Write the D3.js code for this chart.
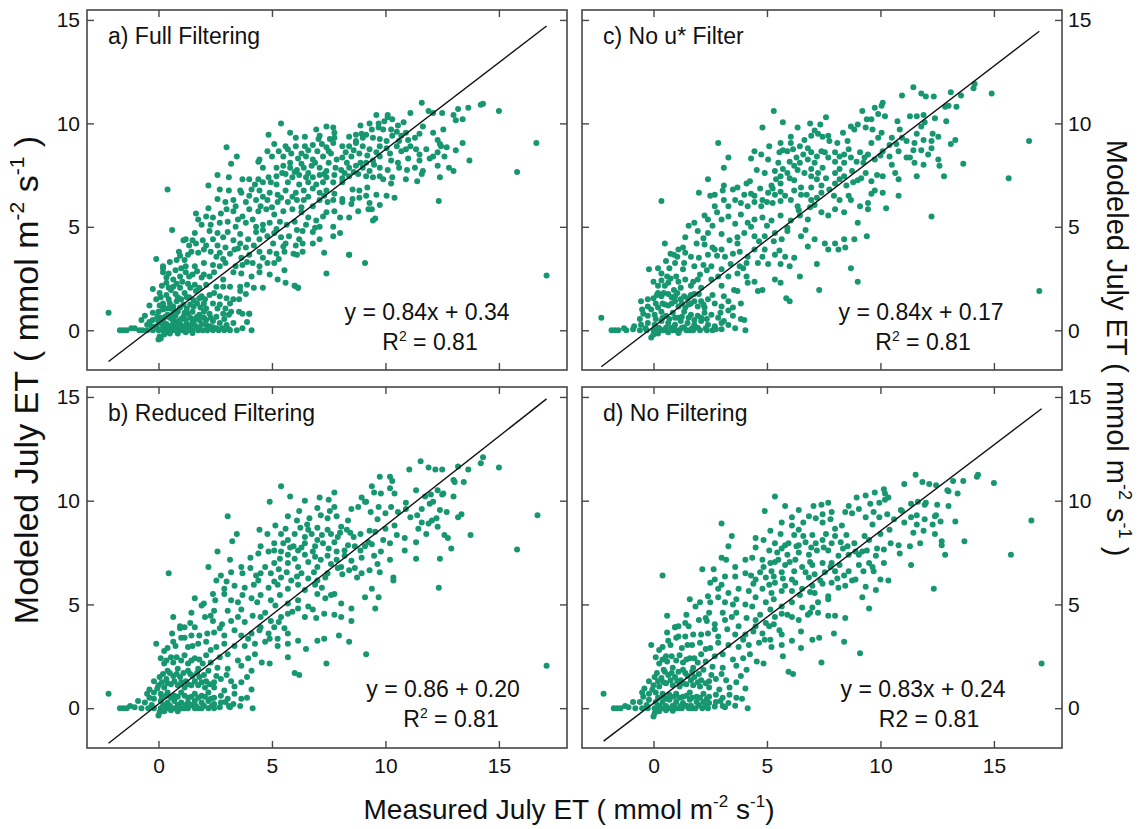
<!DOCTYPE html>
<html>
<head>
<meta charset="utf-8">
<title>Modeled vs Measured July ET</title>
<style>
  body { margin: 0; background: #fff; }
  svg { display: block; font-family: "Liberation Sans", Arial, sans-serif; }
</style>
</head>
<body>
<svg id="chart" width="1142" height="829"></svg>
<script src="https://d3js.org/d3.v7.min.js"></script>
<script>
// ---- data ----
const xTicks = [0, 5, 10, 15];
const yTicks = [0, 5, 10, 15];
const panelNames = ["a) Full Filtering", "b) Reduced Filtering", "c) No u* Filter", "d) No Filtering"];
const slopes = [0.84, 0.86, 0.84, 0.83];
const intercepts = [0.34, 0.20, 0.17, 0.24];
const eqLabels = ["y = 0.84x + 0.34", "y = 0.86 + 0.20", "y = 0.84x + 0.17", "y = 0.83x + 0.24"];
const r2Values = ["0.81", "0.81", "0.81", "0.81"];
const r2Superscript = [true, true, true, false];

const pointsA = [
[11.6,11.0],[9.6,10.4],[10.1,10.3],[10.3,10.2],[9.7,10.0],[9.3,10.0],[11.1,10.5],[11.9,10.6],[12.1,10.5],[12.5,10.5],[13.0,10.4],[13.2,10.7],[13.65,10.75],[14.2,10.9],[14.3,10.95],[15.0,10.6],[13.4,10.2],[13.1,10.15],[5.4,10.0],[9.95,10.1],[10.1,10.4],[10.55,9.9],[8.9,9.9],
[7.4,9.85],[7.7,9.8],[7.75,9.55],[6.95,9.7],[7.1,9.4],[5.8,9.55],[6.45,9.35],[7.05,9.25],[7.55,9.25],[7.75,9.3],[8.4,9.35],[8.7,9.45],[8.95,9.5],[9.15,9.45],[9.0,9.3],[9.4,9.7],[9.7,9.8],[9.9,9.7],[10.25,9.7],[10.5,9.6],[9.45,9.3],[9.75,9.25],[10.05,9.15],[10.7,9.4],[10.9,9.55],[11.0,9.2],[11.3,9.3],[11.65,9.85],[12.55,9.7],[12.1,9.55],[12.3,9.2],[12.45,8.9],[4.85,9.45],[6.05,9.3],[10.3,9.4],[10.6,9.15],[8.7,9.15],[13.4,9.05],[16.65,9.05],
[3.0,8.85],[3.45,8.4],[5.1,9.0],[5.6,8.9],[6.05,8.9],[6.45,8.9],[6.8,8.95],[7.2,9.0],[7.4,8.85],[7.7,9.05],[8.1,8.9],[8.4,8.9],[8.7,9.05],[9.0,8.9],[9.3,8.75],[9.75,8.9],[10.05,8.8],[10.5,8.9],[10.7,8.65],[10.9,8.75],[11.1,8.9],[11.35,8.75],[11.8,8.75],[12.1,8.4],[12.4,9.0],[12.7,8.85],[13.1,8.7],[12.3,8.6],[12.6,8.4],[13.7,8.2],[4.8,8.65],[5.0,8.4],[4.45,8.25],[5.5,8.4],[5.85,8.55],[6.15,8.3],[6.5,8.4],[6.8,8.25],[7.25,8.4],[7.6,8.55],[7.85,8.25],[8.1,8.35],[8.5,8.4],[8.85,8.55],[9.15,8.1],[9.45,8.2],[9.75,8.4],[10.25,8.2],[10.55,8.1],[11.0,8.3],[11.5,8.2],[11.95,8.3],[3.2,8.05],
[4.4,8.15],[4.6,7.85],[5.2,7.85],[5.5,7.95],[5.8,7.85],[6.1,7.75],[6.4,7.85],[6.75,7.95],[7.1,7.85],[7.4,7.7],[7.8,7.85],[8.05,7.75],[8.4,7.85],[8.7,7.95],[9.0,7.85],[9.3,7.7],[9.75,7.85],[10.1,7.75],[10.6,7.85],[10.95,7.75],[11.3,7.85],[11.65,7.7],[12.3,7.95],[12.8,7.85],[13.0,7.7],[12.4,7.4],[11.6,7.55],[11.4,7.2],[9.75,7.45],[9.45,7.4],[9.15,7.45],[8.8,7.55],[8.4,7.45],[8.1,7.35],[7.75,7.5],[7.4,7.4],[7.1,7.5],[6.8,7.4],[6.5,7.4],[6.2,7.5],[5.9,7.4],[5.6,7.55],[5.2,7.45],[4.85,7.4],[4.4,7.3],[4.0,7.3],[3.7,7.3],[2.6,7.5],[3.1,7.4],[10.3,7.4],[10.25,7.1],[8.1,7.15],[7.7,7.15],[7.25,7.15],[6.95,7.05],[6.6,7.15],[6.2,7.05],[5.7,7.15],[5.2,7.05],[4.95,7.15],[4.6,7.15],[4.25,7.05],
[2.2,7.0],[0.4,6.8],[2.7,6.8],[3.1,6.75],[3.6,6.75],[3.65,6.65],[4.1,6.8],[4.45,6.75],[4.9,6.65],[5.25,6.55],[5.6,6.75],[6.05,6.65],[6.4,6.75],[6.8,6.85],[7.1,6.65],[7.4,6.75],[7.75,6.6],[8.1,6.35],[8.55,6.8],[8.85,6.75],[9.2,6.9],[8.1,6.2],[8.55,6.35],[8.85,6.4],[9.15,6.5],[9.3,6.15],[10.05,6.5],[10.4,6.4],[9.75,6.05],[2.6,6.35],[2.95,6.2],[3.3,6.3],[3.85,6.2],[4.3,6.3],[4.8,6.3],[5.25,6.2],[5.7,6.2],[6.1,6.3],[6.4,6.3],[7.1,6.3],[7.45,6.2],[12.35,6.25],
[1.65,5.65],[2.1,5.5],[2.4,5.45],[2.75,5.65],[3.0,5.85],[3.3,5.75],[3.7,5.5],[4.0,5.85],[4.4,5.75],[4.75,5.85],[5.1,5.6],[5.5,5.75],[5.9,5.85],[6.3,5.7],[6.6,5.45],[6.95,5.3],[7.25,5.5],[7.4,5.7],[7.75,5.75],[8.0,5.45],[8.4,5.45],[8.8,5.75],[9.25,5.85],[9.4,5.85],[9.45,5.3],[9.55,5.4],[1.75,5.35],[1.9,5.1],[2.3,5.1],[2.7,5.2],[3.05,5.25],[3.5,5.35],[3.85,5.2],[4.15,5.35],[4.6,5.1],[4.9,5.2],[5.35,5.25],[5.65,5.1],[6.0,5.25],[6.5,5.1],[7.1,5.0],[7.7,5.0],
[0.6,4.85],[1.2,4.4],[1.5,4.35],[1.95,4.35],[2.25,4.8],[2.6,4.7],[2.85,4.5],[3.05,4.75],[3.3,4.35],[3.6,4.2],[3.95,4.4],[4.3,4.75],[4.45,4.4],[4.8,4.55],[5.1,4.7],[5.4,4.5],[5.75,4.55],[6.2,4.4],[6.35,4.8],[6.8,4.75],[7.1,4.4],[7.7,4.55],[8.0,4.7],[1.1,4.35],[1.35,4.1],[1.65,4.2],[2.1,4.1],[2.6,4.1],[2.95,4.0],[3.5,3.95],[3.85,4.0],[4.2,4.1],[5.05,4.2],[5.6,4.2],[6.05,4.1],[6.35,4.2],[6.8,4.2],
[-0.1,3.45],[0.2,3.0],[0.8,3.4],[1.15,3.4],[1.45,3.8],[1.75,3.75],[2.0,3.9],[2.3,3.8],[2.55,3.55],[2.85,3.45],[3.15,3.7],[3.35,3.9],[3.65,3.5],[4.0,3.65],[4.45,3.8],[4.9,3.8],[5.2,3.7],[5.55,3.8],[5.95,3.7],[6.35,3.8],[7.3,3.75],[8.4,3.65],[1.2,3.1],[1.6,3.1],[2.0,3.25],[2.4,3.15],[2.7,3.1],[2.95,3.25],[3.4,3.1],[3.7,3.15],[4.15,3.25],[4.45,3.1],[4.8,3.25],[5.1,3.25],[5.55,2.9],[6.1,3.65],[0.2,3.1],
[0.2,2.8],[0.35,2.55],[0.65,2.45],[0.95,2.6],[1.2,2.8],[1.5,2.7],[1.9,2.55],[2.25,2.6],[2.45,2.8],[2.85,2.45],[3.3,2.8],[3.65,2.75],[4.1,2.6],[4.45,2.8],[4.9,2.7],[5.25,2.45],[5.6,2.3],[7.4,2.75],[0.65,2.1],[0.95,2.05],[1.4,2.05],[1.8,2.05],[2.1,2.2],[2.55,2.1],[2.85,2.1],[3.15,2.1],[3.6,2.1],[3.9,2.2],[4.2,2.05],[4.6,2.05],[6.0,2.15],[6.15,2.05],[0.35,2.3],
[-0.25,2.0],[0.05,1.8],[0.35,1.7],[0.55,1.95],[0.85,1.6],[1.15,1.8],[1.35,1.6],[1.65,1.9],[1.9,1.65],[2.25,1.7],[2.45,1.8],[2.7,1.65],[3.0,1.55],[3.3,1.5],[3.6,1.9],[3.85,1.75],[2.4,1.3],[2.7,1.25],[3.15,1.3],[3.55,1.5],[-0.4,1.2],[-0.1,1.5],[0.2,1.3],[0.5,1.3],[0.8,1.4],[1.1,1.25],[1.4,1.25],[1.7,1.3],[2.0,1.3],[2.1,1.05],[0.2,1.15],[0.5,1.05],
[-0.75,0.5],[-0.25,0.85],[0.0,0.9],[0.2,1.0],[0.4,0.75],[0.65,0.8],[0.85,0.9],[1.1,0.65],[1.3,0.8],[1.5,0.9],[1.8,0.75],[2.0,0.9],[2.25,0.8],[2.55,0.65],[2.85,0.8],[3.1,0.75],[3.55,0.9],[3.7,0.8],[4.0,0.8],[-0.25,0.5],[0.0,0.45],[0.2,0.5],[0.5,0.6],[0.7,0.45],[0.9,0.45],[1.2,0.5],[1.5,0.45],[1.8,0.5],[2.0,0.6],[2.4,0.45],[2.7,0.35],[3.0,0.25],[3.3,0.35],[-0.5,0.27],[-0.3,0.2],[-0.1,0.2],[0.2,0.27],[0.5,0.2],[0.8,0.23],[1.1,0.2],[1.4,0.23],[1.65,0.2],[2.25,0.2],[2.55,0.1],[0.1,0.35],[0.35,0.3],[0.65,0.35],[0.95,0.3],[1.25,0.3],[1.55,0.35],[1.9,0.3],[2.1,0.25],
[-1.7,0],[-1.55,0],[-1.4,0],[-1.05,0.1],[-0.85,0],[-0.7,0],[-0.5,0],[-0.25,0],[0,0],[0.2,0],[0.4,0],[0.65,0],[0.85,0],[1.05,0],[1.3,0],[1.5,0],[1.75,0],[1.95,0],[2.15,0],[2.4,0],[2.65,0],[3.1,0.05],[3.15,0],[4.1,0],[2.9,0],[0.1,0.05],[0.55,0.05],[1.2,0.05],
[0.0,-0.45],[0.1,-0.4],[0.25,-0.2],[0.5,-0.15],[0.85,-0.15],[1.2,-0.1],[1.5,-0.13],[0.05,-0.3],
[-2.2,0.85],[17.1,2.65],[15.8,7.65],[9.1,3.25],[8.4,3.65],[6.0,2.15],[6.15,2.05],[4.0,0.8],
[0.1,0.6],[0.3,0.65],[0.6,0.55],[0.75,0.7],[1.0,0.55],[1.15,0.85],[1.4,0.6],[1.6,0.55],[1.7,0.65],[2.1,0.5],[2.3,0.6],[0.05,1.2],[0.35,1.05],[0.65,1.15],[0.95,1.1],[1.25,1.05],[1.55,1.15],[1.85,1.1],[0.1,1.6],[0.45,1.5],[0.75,1.75],[1.0,1.5],[1.25,1.6],[1.55,1.45],[1.8,1.55],[2.05,1.5],[0.15,2.15],[0.45,2.05],[0.8,2.25],[1.05,2.35],[1.3,2.25],[1.6,2.2],[0.45,2.75],[0.75,2.9],[1.0,3.0],[1.35,2.6],[1.7,2.85],[2.0,2.7],[0.5,3.3],[0.95,3.6],[1.3,3.65],[0.3,0.1],[0.6,0.12],[0.95,0.1],[1.35,0.1],[1.8,0.1],[2.4,0.15],[2.8,0.1],[3.45,0.0],[3.7,0.1],[3.9,0.4],[2.9,0.55],[3.2,0.9],[2.6,1.05],[2.95,1.05],[0.7,0.95],[-0.05,0.65],[-0.4,0.4],[-1.2,0.1],[-0.6,0.7],
[5.3,8.65],[5.7,8.75],[6.3,8.55],[6.6,8.7],[7.0,8.65],[7.5,8.65],[8.25,8.6],[8.6,8.7],[9.6,8.6],[5.8,8.1],[6.3,8.05],[6.9,8.1],[7.5,8.1],[8.3,8.1],[8.9,8.1],[9.5,8.0],[5.45,7.6],[6.0,7.65],[6.6,7.6],[7.3,7.55],[8.2,7.6],[8.6,7.65],[4.0,6.5],[4.6,6.45],[5.4,6.4],[5.9,6.45],[6.6,6.45],[7.3,6.5],[3.4,6.0],[4.5,6.0],[5.0,5.95],[6.3,5.95],[6.8,6.0],[7.7,6.3],[2.2,5.9],[3.4,5.0],[4.3,5.0],[5.2,4.9],[6.1,4.85],[6.9,4.95],[1.6,4.7],[2.4,4.4],[3.6,4.65],[4.6,4.85],[5.5,4.05],[0.9,3.8],[2.7,3.75],[3.9,3.3],[4.6,3.5],[5.3,3.45],[10.8,10.05],[11.5,9.5],[10.2,8.55],[11.5,8.5],[9.2,8.45],[9.9,7.3],[10.9,7.3],[8.5,6.1],[9.6,6.55]
];

const pointsB = [
[-2.2,0.7],[17.1,2.05],[16.7,9.3],[15.8,7.65],[15.0,11.6],[14.3,12.1],[14.2,11.8],[13.65,11.5],[13.2,11.65],[13.05,10.9],[13.45,10.9],[13.0,11.0],[11.55,11.9],[11.9,11.6],[12.2,11.5],[12.5,11.5],[11.05,11.5],[13.75,8.35],[12.35,5.8],[12.9,7.7],[9.15,2.6],[7.4,2.15],[6.0,1.7],[6.2,1.6],[0.45,6.5],[0.65,4.4],[3.05,9.25],[3.45,8.4],[5.4,10.7],[4.9,9.95],[4.15,0],[3.15,0.05],[4.1,0.9],
[9.4,10.7],[9.75,11.15],[10.2,11.15],[10.3,10.95],[9.5,10.4],[9.8,10.35],[10.2,10.6],[10.4,10.35],[11.35,10.5],[11.75,10.2],[12.1,9.95],[12.55,10.35],[12.5,10.3],[7.75,10.4],[7.5,10.05],[7.1,10.15],[5.8,10.2],[6.45,10.0],[8.95,10.15],[9.15,9.95],[12.3,10.5],
[7.0,9.65],[7.15,9.3],[7.55,9.5],[7.85,9.25],[6.65,9.15],[6.2,9.5],[5.7,9.25],[6.1,9.05],[6.55,8.85],[7.75,9.7],[8.5,9.6],[8.8,9.7],[9.1,9.95],[9.35,9.45],[9.7,9.7],[10.0,9.4],[10.25,9.7],[10.55,9.45],[10.9,9.6],[11.1,9.2],[11.4,9.3],[11.6,8.95],[12.05,9.05],[12.4,9.55],[12.7,9.45],[12.25,9.15],[13.2,9.2],[13.35,9.35],[11.95,9.85],[8.35,9.05],[8.05,8.75],[7.45,9.15],
[4.45,8.6],[4.8,8.4],[5.4,8.4],[5.7,8.1],[6.0,8.4],[6.45,8.25],[6.75,8.4],[7.2,8.35],[7.45,8.6],[7.9,8.25],[8.3,8.6],[8.6,8.25],[8.9,8.4],[9.25,8.0],[9.55,8.5],[9.9,8.1],[10.2,7.95],[10.5,8.35],[10.85,8.2],[11.35,8.0],[11.8,8.4],[12.3,8.75],[12.6,8.35],[11.9,8.9],[12.75,8.2],[3.25,8.05],[4.5,7.8],[5.1,7.95],[5.5,7.95],[5.95,7.8],[6.45,7.95],[6.9,7.8],[7.25,7.95],[7.75,8.0],[8.2,7.6],[8.65,7.8],[9.1,7.8],
[2.6,7.55],[3.15,7.15],[4.05,7.25],[4.4,7.45],[4.85,7.55],[5.1,7.6],[5.4,7.55],[5.7,7.4],[6.15,7.6],[6.45,7.4],[6.8,7.55],[7.15,7.15],[7.45,7.35],[7.85,7.55],[8.2,7.35],[8.5,7.1],[8.95,7.25],[9.5,7.35],[10.2,7.15],[11.35,7.2],[12.4,7.2],[5.1,7.0],[5.7,7.0],[6.15,6.8],[6.6,7.05],[7.0,6.8],[7.6,6.95],[8.05,6.8],[8.65,6.75],[3.65,6.8],
[2.2,6.8],[2.55,6.15],[2.75,6.4],[3.2,6.55],[3.7,6.5],[4.05,6.75],[4.5,6.5],[4.95,6.5],[5.4,6.3],[5.85,6.15],[6.3,6.5],[6.6,6.25],[7.0,6.15],[7.45,6.5],[7.9,6.75],[8.4,6.65],[8.95,6.5],[9.3,6.65],[9.75,6.55],[10.35,6.3],[10.35,6.15],[9.4,5.75],[2.9,5.75],[3.35,5.9],[3.8,5.8],[4.2,5.95],[4.85,5.8],[5.25,5.95],[5.7,5.75],[6.15,5.95],[7.2,5.8],[7.75,5.5],
[1.6,5.3],[2.0,5.05],[2.9,5.5],[3.2,5.2],[3.7,5.45],[4.1,5.3],[4.5,5.45],[4.95,5.2],[5.35,5.45],[5.7,5.05],[6.15,5.2],[6.6,4.9],[7.0,5.5],[7.35,5.3],[7.6,5.45],[8.05,5.05],[8.5,4.8],[9.1,5.35],[9.55,4.8],[9.7,5.35],[1.9,4.95],[2.5,5.2],
[1.15,3.9],[1.6,3.9],[2.05,4.4],[2.4,4.2],[2.8,4.05],[3.2,4.2],[3.5,4.4],[3.8,4.15],[4.15,4.45],[4.5,4.4],[4.95,4.2],[5.4,4.4],[5.7,4.55],[6.15,4.8],[6.45,4.4],[6.95,4.35],[7.3,4.55],[7.75,4.5],[8.05,4.4],[8.5,4.2],[2.45,4.7],[3.05,4.7],[5.1,3.9],[4.5,3.9],
[-0.1,3.1],[0.25,2.75],[0.75,3.0],[1.15,3.4],[1.45,3.5],[1.8,3.5],[2.15,3.6],[2.45,3.65],[2.9,3.5],[3.35,3.75],[3.65,3.5],[4.1,3.6],[4.45,3.75],[4.85,3.6],[5.25,3.35],[5.7,3.6],[6.15,3.25],[6.5,2.85],[7.0,3.25],[7.3,3.35],[7.95,3.5],[8.4,3.2],[1.3,2.95],[1.75,3.1],[2.1,3.2],[2.55,2.95],[2.9,3.1],[3.35,3.0],[3.8,3.0],[4.25,3.1],[4.7,3.2],[5.25,3.0],[5.7,3.1],
[0.25,2.15],[0.65,2.2],[1.0,2.3],[1.3,2.15],[1.6,2.4],[1.95,2.15],[2.3,2.2],[2.7,2.45],[3.05,2.6],[3.5,2.3],[3.95,2.4],[4.25,2.6],[4.55,2.2],[4.9,2.15],[5.7,2.45],[0.4,1.8],[0.85,1.9],[1.3,1.8],[1.75,1.9],[2.2,1.8],[2.6,1.95],[3.05,1.9],[3.65,2.05],[4.1,1.8],[0.55,2.45],
[-0.4,0.9],[-0.2,1.3],[0.05,1.5],[0.35,1.4],[0.65,1.55],[0.95,1.5],[1.2,1.3],[1.5,1.55],[1.8,1.5],[2.1,1.3],[2.45,1.25],[2.75,1.4],[3.2,1.3],[3.65,1.25],[0.0,1.1],[0.25,1.0],[0.55,1.15],[0.85,1.1],[1.15,1.0],[1.45,1.1],[1.75,1.1],[2.05,1.0],[2.45,1.0],
[-0.2,0.75],[0.1,0.7],[0.4,0.75],[0.7,0.6],[1.0,0.75],[1.3,0.5],[1.6,0.7],[1.9,0.6],[2.2,0.75],[2.45,0.5],[2.75,0.6],[3.05,0.45],[3.35,0.7],[3.65,0.45],[-0.2,0.45],[0.1,0.35],[0.4,0.27],[0.7,0.35],[1.0,0.27],[1.3,0.27],[1.6,0.35],[1.9,0.27],[2.2,0.35],[2.45,0.2],[2.75,0.27],[-0.6,0.27],[-0.9,0.35],[-0.4,0.5],[0.25,0.15],[0.85,0.15],[1.45,0.15],[2.0,0.12],
[-1.7,0],[-1.55,0],[-1.4,0],[-1.05,0.05],[-0.75,0],[-0.45,0],[-0.2,0],[0.1,0],[0.4,0],[0.7,0],[1.0,0],[1.3,0],[1.6,0],[1.9,0],[2.2,0],[2.45,0],[3.1,0.1],[0.55,0],[1.15,0],[1.75,0],
[0,-0.35],[0.05,-0.2],[0.25,-0.15],[0.55,-0.1],[0.85,-0.15],
[0.15,0.55],[0.35,0.6],[0.55,0.5],[0.85,0.55],[1.15,0.6],[1.45,0.55],[1.75,0.5],[2.05,0.55],[2.3,0.45],[0.15,1.25],[0.4,1.2],[0.7,1.3],[1.0,1.25],[1.3,1.15],[1.6,1.3],[1.9,1.25],[2.25,1.15],[0.2,1.65],[0.5,1.7],[0.8,1.65],[1.1,1.7],[1.4,1.65],[1.7,1.7],[2.0,1.6],[0.1,2.4],[0.35,2.3],[0.8,2.45],[1.15,2.55],[1.45,2.3],[1.8,2.35],[2.1,2.55],[0.4,2.9],[0.65,3.2],[1.0,3.4],[1.5,3.0],[0.6,3.6],[0.95,3.85],[1.4,4.1],[0.2,0.1],[0.5,0.12],[0.9,0.1],[1.2,0.15],[1.65,0.1],[2.35,0.1],[2.7,0.05],[2.95,0.3],[3.3,0.2],[3.6,0.1],[3.9,0.5],[2.9,0.85],[3.35,1.05],[2.55,1.55],[3.0,1.6],[-0.05,0.95],[-0.5,0.7],[-1.25,0.1],[-0.3,0.15],[3.9,1.5],[2.3,2.8],
[5.15,8.8],[5.6,8.65],[6.25,8.7],[6.6,8.6],[7.0,8.7],[7.6,8.4],[8.0,8.45],[8.45,8.45],[9.3,8.55],[10.0,8.65],[5.8,7.75],[6.3,7.75],[7.0,8.1],[7.5,7.7],[8.35,7.85],[8.9,7.6],[9.4,7.9],[5.35,7.2],[6.0,7.2],[6.9,7.3],[7.85,7.15],[4.3,6.4],[4.7,6.8],[5.3,6.7],[5.65,6.55],[6.1,6.35],[6.85,6.55],[7.35,6.3],[8.1,6.45],[3.0,6.1],[4.4,6.15],[5.1,6.1],[6.45,5.7],[6.9,5.95],[2.4,5.5],[3.5,5.1],[4.35,5.1],[5.15,4.95],[5.9,4.65],[6.8,4.75],[1.45,4.6],[2.3,4.45],[3.65,4.75],[4.7,4.6],[5.3,4.15],[0.95,3.95],[2.7,3.85],[3.95,3.35],[4.9,3.35],[5.55,3.85],[10.9,9.9],[11.6,9.6],[10.4,8.8],[11.45,8.65],[9.65,9.1],[9.8,7.55],[10.85,7.6],[8.75,6.3],[9.65,6.95],[12.0,10.3],[13.0,10.2]
];

const pointsC = [
[-2.3,0.6],[17.0,1.9],[16.55,9.15],[15.65,7.35],[14.9,11.45],[14.15,11.9],[14.1,11.7],[13.55,11.35],[13.1,11.5],[13.0,10.85],[12.85,10.8],[13.35,10.8],[11.45,11.75],[11.8,11.45],[12.0,11.3],[12.35,11.3],[10.95,11.35],[13.65,8.05],[12.25,5.5],[12.8,7.45],[9.0,2.35],[7.3,1.95],[6.0,1.4],[5.85,1.55],[0.35,6.25],[0.5,4.2],[2.85,9.05],[3.3,8.35],[5.3,10.6],[4.8,9.8],[4.05,0],[3.0,0.05],[4.0,0.5],
[9.2,10.6],[9.75,10.75],[10.1,11.0],[10.05,10.85],[9.4,10.2],[9.6,10.2],[9.9,10.45],[10.2,10.35],[11.3,10.35],[11.6,10.35],[11.95,10.05],[12.4,10.25],[7.6,10.3],[7.35,9.95],[6.9,10.0],[5.7,10.05],[6.35,9.8],
[7.1,9.65],[7.25,9.5],[7.45,9.35],[6.95,9.4],[6.65,9.2],[6.05,9.35],[5.6,9.05],[6.05,9.05],[6.45,8.9],[7.7,9.4],[8.35,9.55],[8.7,9.85],[9.0,9.95],[8.85,9.7],[9.35,9.8],[9.65,9.7],[9.9,9.3],[10.05,9.55],[10.5,9.3],[10.85,9.7],[10.95,9.3],[11.15,9.15],[10.7,9.0],[11.5,9.05],[11.9,9.2],[12.3,9.5],[12.55,9.35],[12.25,9.15],[13.3,9.2],[13.1,9.0],[11.8,9.85],[8.55,9.15],[8.1,9.05],[7.75,9.15],
[4.45,8.65],[4.75,8.5],[5.55,8.6],[5.9,8.65],[6.3,8.35],[6.6,8.5],[6.95,8.6],[7.4,8.65],[7.7,8.35],[8.0,8.6],[8.4,8.5],[8.7,8.35],[9.1,8.6],[9.45,8.5],[9.75,8.25],[10.1,8.65],[10.4,8.4],[10.8,8.65],[11.15,8.35],[11.5,8.1],[12.1,8.5],[12.55,8.25],[12.25,8.8],[11.8,8.7],[3.1,7.85],[4.3,8.3],[5.05,8.25],[5.5,8.1],[6.0,8.15],[6.45,8.1],[6.8,8.25],[7.1,8.1],[8.0,8.15],[8.4,8.1],[8.95,8.15],[9.25,8.1],[10.5,8.0],[11.3,8.35],[11.9,8.0],[12.6,7.95],
[2.4,7.3],[3.1,7.0],[4.1,7.1],[4.25,7.2],[4.55,7.75],[4.9,7.6],[5.35,7.7],[5.6,7.45],[5.9,7.6],[6.35,7.75],[6.65,7.6],[6.95,7.45],[7.25,7.6],[7.6,7.35],[8.0,7.6],[8.4,7.45],[8.8,7.15],[9.15,7.35],[9.6,7.2],[10.1,7.45],[10.65,7.6],[11.6,7.45],[5.2,7.0],[5.6,7.1],[6.2,7.25],[6.5,6.9],[6.95,6.9],[7.4,7.0],[8.0,7.1],[8.5,7.0],[9.0,7.25],[3.7,6.9],[3.5,6.8],
[2.0,6.65],[2.5,6.5],[2.7,6.55],[3.05,6.75],[3.6,6.3],[4.0,6.55],[4.45,6.5],[4.8,6.3],[5.05,6.65],[5.35,6.55],[5.8,6.5],[6.2,6.75],[6.5,6.55],[6.95,6.3],[7.4,6.65],[7.75,6.8],[8.2,6.3],[8.7,6.3],[9.1,6.0],[9.45,6.15],[10.1,6.65],[10.25,5.9],[10.8,6.5],[9.75,6.75],[2.7,6.0],[3.3,6.0],[3.85,6.15],[4.15,6.0],[4.75,6.0],[5.25,6.15],[5.6,6.25],[6.35,6.0],[7.1,6.05],
[1.55,5.05],[1.95,4.8],[2.8,5.7],[3.0,5.35],[3.3,5.5],[3.85,5.6],[4.15,5.2],[4.45,5.35],[4.8,5.45],[5.2,5.3],[5.6,5.55],[6.05,5.3],[6.45,5.55],[6.8,5.35],[7.4,5.7],[7.7,5.55],[8.0,5.85],[8.4,5.7],[9.0,5.2],[9.45,5.85],[1.8,5.2],[2.4,5.35],[2.6,5.05],
[1.1,3.9],[1.4,3.75],[1.9,4.2],[2.25,4.15],[2.6,4.0],[3.0,3.9],[3.35,4.35],[3.7,4.2],[4.0,4.7],[4.45,4.55],[4.9,4.55],[5.35,4.7],[5.65,4.4],[5.9,4.8],[6.5,4.55],[7.1,4.4],[7.55,4.2],[8.0,4.2],[8.4,4.4],[8.85,4.4],[9.4,4.55],[2.4,4.7],[3.0,4.65],
[-0.2,2.95],[0.2,3.0],[0.7,3.0],[1.05,3.55],[1.65,3.55],[2.0,3.5],[2.4,3.65],[2.7,3.9],[3.15,3.55],[3.5,3.7],[3.8,3.8],[4.15,3.55],[4.45,3.9],[4.9,3.9],[5.35,3.65],[5.8,3.55],[6.2,3.5],[6.8,4.05],[7.2,3.2],[7.7,3.9],[8.15,3.9],[8.45,4.0],[8.7,3.0],[0.6,2.6],[1.0,2.6],[1.35,3.25],[1.8,3.1],[2.2,3.15],[2.55,3.1],[3.0,2.95],[3.4,3.2],[3.8,3.1],[4.1,3.25],[4.6,3.25],[5.05,3.2],[5.6,3.2],[6.0,3.1],[6.45,2.6],
[0.2,2.15],[0.5,2.15],[0.9,1.95],[1.2,2.05],[1.65,2.15],[2.1,2.05],[2.55,2.45],[2.85,2.6],[3.3,2.6],[3.7,2.75],[4.1,2.6],[4.45,2.35],[4.8,1.95],[5.35,2.45],[5.6,2.3],[0.2,1.8],[0.65,2.3],[1.95,2.45],[3.0,2.15],[3.55,1.95],[4.15,2.3],[4.6,1.9],
[-0.55,1.4],[-0.25,1.5],[0.0,1.55],[0.35,1.65],[0.65,1.75],[0.95,1.65],[1.2,1.5],[1.5,1.55],[1.8,1.75],[2.1,1.4],[2.4,1.5],[2.7,1.3],[3.1,1.65],[3.5,1.1],[3.85,1.3],[-0.25,1.15],[0.2,1.1],[0.5,1.25],[0.8,1.3],[1.1,1.15],[1.4,1.1],[1.65,1.3],[1.95,1.15],[2.25,1.1],[3.0,1.15],
[-0.45,0.8],[-0.25,0.7],[0.05,0.75],[0.35,0.9],[0.55,0.7],[0.85,0.85],[1.1,0.6],[1.35,0.9],[1.65,0.75],[1.95,0.7],[2.25,0.85],[2.55,0.75],[2.85,0.6],[3.1,0.45],[3.5,0.7],[-0.25,0.35],[0.05,0.27],[0.35,0.45],[0.65,0.35],[0.95,0.27],[1.2,0.45],[1.5,0.35],[1.8,0.27],[2.1,0.45],[2.4,0.27],[2.7,0.2],[-0.85,0.2],[-0.55,0.27],[0.2,0.12],[0.8,0.12],[1.35,0.15],[1.95,0.12],
[-1.85,0],[-1.7,0],[-1.55,0],[-1.2,0],[-0.9,0.05],[-0.6,0],[-0.3,0],[0,0],[0.25,0],[0.55,0],[0.85,0],[1.15,0],[1.45,0],[1.75,0],[2.05,0],[2.35,0],[2.6,0],[0.4,0],[1.0,0],[1.6,0],
[-0.1,-0.35],[0,-0.2],[0.2,-0.15],[0.65,-0.1],[1.1,-0.13],
[0.1,0.55],[0.4,0.6],[0.7,0.55],[0.95,0.6],[1.25,0.65],[1.55,0.6],[1.8,0.5],[2.1,0.6],[2.35,0.55],[0.1,1.3],[0.4,1.3],[0.65,1.2],[0.95,1.4],[1.25,1.3],[1.55,1.25],[1.8,1.4],[2.2,1.25],[0.15,1.7],[0.45,1.8],[0.8,1.6],[1.05,1.8],[1.35,1.65],[1.65,1.7],[2.0,1.75],[0.0,2.35],[0.35,2.4],[0.75,2.5],[1.1,2.35],[1.4,2.45],[1.75,2.35],[2.05,2.7],[0.35,2.75],[0.55,3.35],[0.95,3.25],[1.3,2.95],[0.75,3.7],[1.3,4.0],[0.25,0.1],[0.55,0.12],[0.9,0.1],[1.25,0.12],[1.7,0.1],[2.3,0.1],[2.75,0.05],[3.0,0.35],[3.3,0.25],[3.6,0.1],[3.85,0.55],[2.95,0.85],[3.3,0.95],[2.6,1.7],[3.3,1.4],[-0.1,1.0],[-0.6,0.55],[-1.3,0.1],[-0.35,0.1],[3.7,1.9],[2.35,2.9],[-0.5,1.0],
[5.1,8.9],[5.7,8.7],[6.15,8.75],[6.8,8.8],[7.2,8.4],[7.55,8.6],[8.2,8.4],[8.6,8.75],[9.3,8.35],[10.0,8.45],[5.7,7.8],[6.2,7.95],[6.95,7.8],[7.45,7.85],[8.2,7.8],[8.75,7.7],[9.35,7.6],[5.4,7.3],[6.0,7.35],[7.2,7.3],[8.2,7.3],[4.3,6.6],[4.7,6.85],[5.25,6.85],[5.6,6.7],[6.05,6.3],[6.75,6.55],[7.2,6.4],[7.95,6.5],[3.1,6.3],[4.45,6.2],[5.0,6.2],[6.4,5.8],[6.9,5.95],[2.25,5.55],[3.6,5.15],[4.3,5.0],[5.0,5.05],[5.9,4.95],[6.7,4.85],[1.4,4.5],[2.2,4.45],[3.7,4.5],[4.65,4.3],[5.3,4.3],[0.9,3.65],[2.8,3.6],[3.95,3.0],[4.8,3.55],[5.55,3.85],[10.75,10.1],[11.6,9.5],[10.4,8.95],[11.45,8.7],[9.6,9.05],[9.85,7.5],[10.8,7.3],[8.6,6.5],[9.6,6.6],[11.9,10.4],[12.9,10.1]
];

const pointsD = [
[-2.2,0.7],[17.1,2.15],[16.65,9.05],[15.75,7.4],[15.0,10.85],[14.25,11.15],[14.3,11.25],[13.65,10.95],[13.2,10.95],[13.0,10.45],[13.4,10.35],[12.95,10.5],[11.55,11.25],[11.85,10.9],[12.15,10.8],[12.45,10.75],[11.05,10.8],[13.7,8.05],[12.35,5.75],[12.85,7.4],[9.1,2.65],[7.4,2.2],[5.95,1.75],[6.15,1.65],[0.4,6.4],[0.6,4.45],[3.0,8.9],[3.45,8.3],[5.35,10.2],[4.9,9.5],[4.15,0],[3.15,0.05],[4.05,0.95],
[9.35,10.25],[9.75,10.4],[10.15,10.55],[10.2,10.35],[9.55,9.85],[9.95,9.9],[10.2,10.05],[10.35,10.15],[11.35,9.85],[11.65,9.95],[11.95,9.8],[12.5,9.8],[7.7,9.9],[7.4,9.8],[7.05,9.75],[5.8,9.75],[6.4,9.55],[8.95,10.15],[8.6,9.75],
[6.85,9.25],[7.15,9.15],[7.45,9.35],[7.8,9.1],[6.6,8.95],[6.1,9.2],[5.65,8.95],[6.1,8.8],[6.4,8.6],[7.85,9.45],[8.45,9.45],[8.75,9.4],[9.05,9.6],[9.35,9.2],[9.7,9.45],[9.95,9.2],[10.3,9.35],[10.6,9.1],[10.95,9.5],[11.05,8.95],[11.35,9.2],[11.6,8.85],[11.95,9.1],[12.4,9.25],[12.65,9.0],[12.3,8.85],[13.3,9.0],[12.45,9.3],[8.3,8.8],[8.0,8.65],[7.45,8.95],
[4.5,8.2],[4.85,8.1],[5.35,7.95],[5.65,7.7],[5.95,7.95],[6.4,7.85],[6.7,8.0],[7.15,7.95],[7.45,8.1],[7.85,7.95],[8.25,8.0],[8.55,7.8],[8.85,7.95],[9.2,7.55],[9.5,8.1],[9.85,7.7],[10.15,7.65],[10.45,7.95],[10.8,7.85],[11.3,7.8],[11.75,7.95],[12.4,8.4],[12.7,8.05],[11.9,8.55],[12.7,7.85],[3.3,7.8],[4.5,7.75],[5.1,7.6],[5.45,7.5],[5.9,7.4],[6.4,7.5],[6.85,7.4],[7.2,7.6],[7.7,7.6],[8.15,7.35],[8.6,7.4],[9.05,7.4],
[3.0,7.25],[3.2,7.15],[4.05,7.15],[4.35,7.25],[4.8,7.15],[5.15,7.0],[5.5,7.15],[5.8,6.9],[6.25,7.15],[6.55,6.8],[7.0,6.9],[7.45,7.0],[7.8,6.8],[8.2,6.9],[8.6,6.6],[9.05,6.9],[9.5,7.0],[10.15,7.0],[10.0,6.2],[11.35,6.9],[4.85,6.8],[5.2,6.6],[5.65,6.55],[6.2,6.6],[6.7,6.55],[7.1,6.45],[7.55,6.55],[8.0,6.6],[3.6,6.8],[2.15,6.7],[2.65,6.7],
[2.5,6.05],[2.7,6.2],[3.15,6.35],[3.6,6.35],[4.05,6.5],[4.5,6.2],[4.95,6.3],[5.35,6.05],[5.8,5.9],[6.25,6.05],[6.55,5.75],[7.0,5.9],[7.45,6.0],[7.85,6.05],[8.4,6.4],[8.9,6.2],[9.25,6.6],[9.7,6.6],[10.35,6.15],[9.35,5.85],[2.85,5.75],[3.3,5.55],[3.75,5.75],[4.2,5.65],[4.8,5.75],[5.2,5.55],[5.65,5.65],[6.1,5.65],[7.1,5.55],[7.7,5.4],[8.15,5.8],[8.45,5.9],
[1.6,5.25],[2.05,5.1],[2.85,5.35],[3.15,5.1],[3.65,5.25],[4.05,5.0],[4.5,5.35],[4.95,5.1],[5.3,5.25],[5.65,4.9],[6.1,5.1],[6.55,4.85],[7.0,4.85],[7.25,5.1],[7.7,5.25],[8.0,4.45],[8.45,4.35],[9.2,5.35],[9.5,4.8],[9.8,5.7],[1.85,4.9],[2.5,5.1],
[1.1,3.95],[1.55,3.95],[2.0,4.25],[2.35,4.2],[2.7,4.05],[3.15,4.25],[3.45,4.4],[3.75,3.95],[4.1,4.35],[4.5,4.25],[4.95,4.1],[5.35,4.4],[5.65,4.55],[6.1,4.4],[6.4,4.25],[6.9,4.6],[7.25,4.6],[7.7,4.45],[2.45,4.6],[3.05,4.6],[5.1,3.95],[4.5,3.95],[6.5,3.7],
[-0.1,3.05],[0.25,2.8],[0.75,3.05],[1.1,3.45],[1.4,3.45],[1.75,3.55],[2.1,3.55],[2.4,3.6],[2.85,3.45],[3.25,3.8],[3.6,3.55],[4.05,3.55],[4.4,3.7],[4.8,3.6],[5.15,3.3],[5.65,3.55],[6.1,3.25],[6.5,2.9],[7.0,3.3],[7.3,3.4],[7.95,3.6],[8.4,3.2],[1.25,2.9],[1.7,3.05],[2.05,3.15],[2.5,2.9],[2.85,3.15],[3.3,3.05],[3.75,2.95],[4.2,3.05],[4.65,3.15],[5.2,2.95],[5.65,3.05],
[0.25,2.15],[0.6,2.25],[1.0,2.3],[1.3,2.2],[1.6,2.4],[1.95,2.2],[2.3,2.25],[2.7,2.5],[3.05,2.6],[3.5,2.35],[3.95,2.4],[4.25,2.6],[4.55,2.25],[4.85,2.15],[5.7,2.5],[0.45,1.85],[0.85,1.95],[1.3,1.85],[1.75,1.95],[2.2,1.85],[2.6,2.0],[3.05,1.95],[3.65,2.05],[4.1,1.85],[0.55,2.5],
[-0.4,0.95],[-0.2,1.3],[0.05,1.5],[0.35,1.45],[0.65,1.6],[0.95,1.5],[1.2,1.35],[1.5,1.55],[1.8,1.5],[2.1,1.35],[2.45,1.3],[2.75,1.4],[3.2,1.35],[3.65,1.25],[0.0,1.1],[0.25,1.05],[0.55,1.2],[0.85,1.1],[1.15,1.05],[1.45,1.15],[1.75,1.1],[2.05,1.05],[2.45,1.0],
[-0.2,0.7],[0.1,0.75],[0.4,0.7],[0.7,0.65],[1.0,0.7],[1.3,0.55],[1.6,0.75],[1.9,0.55],[2.2,0.7],[2.45,0.55],[2.75,0.65],[3.05,0.5],[3.35,0.65],[3.65,0.5],[-0.2,0.4],[0.1,0.3],[0.4,0.3],[0.7,0.4],[1.0,0.3],[1.3,0.25],[1.6,0.4],[1.9,0.3],[2.2,0.3],[2.45,0.25],[2.75,0.3],[-0.6,0.3],[-0.9,0.3],[-0.45,0.55],[0.25,0.12],[0.85,0.12],[1.45,0.12],[2.0,0.15],
[-1.75,0],[-1.6,0],[-1.45,0],[-1.1,0.05],[-0.8,0],[-0.5,0],[-0.25,0],[0.05,0],[0.35,0],[0.65,0],[0.95,0],[1.25,0],[1.55,0],[1.85,0],[2.15,0],[2.4,0],[3.05,0.1],[0.5,0],[1.1,0],[1.7,0],
[0,-0.4],[0.05,-0.25],[0.25,-0.15],[0.55,-0.1],[0.85,-0.12],
[0.2,0.5],[0.45,0.55],[0.6,0.45],[0.9,0.55],[1.15,0.5],[1.45,0.6],[1.7,0.5],[2.05,0.5],[2.35,0.45],[0.2,1.3],[0.45,1.25],[0.75,1.35],[1.05,1.3],[1.3,1.2],[1.65,1.35],[1.95,1.25],[2.3,1.2],[0.15,1.7],[0.5,1.75],[0.8,1.7],[1.1,1.75],[1.4,1.7],[1.7,1.75],[2.0,1.65],[0.1,2.45],[0.4,2.35],[0.8,2.5],[1.15,2.55],[1.45,2.35],[1.8,2.4],[2.1,2.6],[0.4,2.95],[0.65,3.25],[1.0,3.4],[1.5,3.05],[0.6,3.65],[0.95,3.9],[1.4,4.1],[0.2,0.1],[0.55,0.1],[0.9,0.12],[1.2,0.1],[1.65,0.12],[2.3,0.1],[2.7,0.08],[2.95,0.35],[3.3,0.25],[3.6,0.12],[3.9,0.45],[2.9,0.9],[3.35,1.0],[2.55,1.6],[3.0,1.65],[-0.05,0.9],[-0.5,0.75],[-1.25,0.1],[-0.3,0.15],[3.85,1.55],[2.3,2.85],
[5.15,8.55],[5.6,8.4],[6.2,8.35],[6.6,8.3],[7.0,8.35],[7.6,8.4],[8.0,8.3],[8.5,8.35],[9.3,8.3],[10.0,8.4],[5.8,7.85],[6.3,7.8],[6.95,7.75],[7.5,7.75],[8.35,7.7],[8.9,7.55],[9.4,7.6],[5.35,7.05],[6.0,7.05],[6.9,7.05],[7.85,7.0],[4.3,6.4],[4.7,6.55],[5.3,6.35],[5.7,6.25],[6.1,6.2],[6.85,6.3],[7.35,6.15],[8.1,6.25],[3.0,5.95],[4.4,6.0],[5.1,5.95],[6.45,5.45],[6.9,5.6],[2.4,5.4],[3.5,5.0],[4.35,4.9],[5.15,4.75],[5.9,4.5],[6.8,4.5],[1.45,4.5],[2.3,4.35],[3.65,4.6],[4.7,4.5],[5.3,4.05],[0.95,3.9],[2.7,3.8],[3.95,3.3],[4.9,3.3],[5.55,3.75],[10.9,9.55],[11.6,9.3],[10.4,8.6],[11.45,8.45],[9.65,8.85],[9.8,7.35],[10.85,7.45],[8.75,6.15],[9.65,6.8],[12.0,9.9],[13.0,9.75]
];

const panelPoints = [pointsA, pointsB, pointsC, pointsD];

// ---- layout ----
const svg = d3.select("#chart");
const panelW = 480;
const colLeft = [87, 582];
const rowBox = [{ top: 10, h: 360 }, { top: 387, h: 361 }];
const slot = [{ c: 0, r: 0 }, { c: 0, r: 1 }, { c: 1, r: 0 }, { c: 1, r: 1 }];
const eqCenter = [[340, 343], [356, 364], [339, 341], [341, 347]];
const dotColor = "#16976f";
const frameColor = "#474747";
const tickLen = 7;

function styleAxis(g, showLabels) {
  g.select(".domain").remove();
  g.selectAll(".tick line").attr("stroke", frameColor).attr("stroke-width", 1.4);
  g.selectAll(".tick text")
    .attr("fill", "#111")
    .style("font-size", "21px")
    .style("display", showLabels ? null : "none");
}

panelPoints.forEach(function (pts, i) {
  const left = colLeft[slot[i].c];
  const top = rowBox[slot[i].r].top;
  const h = rowBox[slot[i].r].h;

  const x = d3.scaleLinear().domain([-3.15, 18.0]).range([left, left + panelW]);
  const y = d3.scaleLinear().domain([-1.92, 15.48]).range([top + h, top]);

  const g = svg.append("g").attr("class", "panel");

  // ticks on all four sides, pointing inward
  g.append("g").attr("transform", "translate(0," + (top + h) + ")")
    .call(d3.axisBottom(x).tickValues(xTicks).tickSizeInner(-tickLen).tickSizeOuter(0).tickPadding(10))
    .call(styleAxis, slot[i].r === 1);
  g.append("g").attr("transform", "translate(0," + top + ")")
    .call(d3.axisTop(x).tickValues(xTicks).tickSizeInner(-tickLen).tickSizeOuter(0))
    .call(styleAxis, false);
  g.append("g").attr("transform", "translate(" + left + ",0)")
    .call(d3.axisLeft(y).tickValues(yTicks).tickSizeInner(-tickLen).tickSizeOuter(0).tickPadding(7))
    .call(styleAxis, slot[i].c === 0);
  g.append("g").attr("transform", "translate(" + (left + panelW) + ",0)")
    .call(d3.axisRight(y).tickValues(yTicks).tickSizeInner(-tickLen).tickSizeOuter(0).tickPadding(6))
    .call(styleAxis, slot[i].c === 1);

  // points
  g.append("g").selectAll("circle")
    .data(pts)
    .join("circle")
    .attr("cx", function (d) { return x(d[0]); })
    .attr("cy", function (d) { return y(d[1]); })
    .attr("r", 3)
    .attr("fill", dotColor);

  // regression line over the x range of the data
  const ext = d3.extent(pts, function (d) { return d[0]; });
  const fit = ext.map(function (v) { return [v, slopes[i] * v + intercepts[i]]; });
  g.append("path")
    .datum(fit)
    .attr("fill", "none")
    .attr("stroke", "#111")
    .attr("stroke-width", 1.4)
    .attr("d", d3.line().x(function (d) { return x(d[0]); }).y(function (d) { return y(d[1]); }));

  // frame
  g.append("rect")
    .attr("x", left).attr("y", top)
    .attr("width", panelW).attr("height", h)
    .attr("fill", "none")
    .attr("stroke", frameColor)
    .attr("stroke-width", 1.6);

  // texts
  g.append("text")
    .attr("x", left + 21).attr("y", top + 34)
    .style("font-size", "23px").attr("fill", "#111")
    .text(panelNames[i]);

  g.append("text")
    .attr("x", left + eqCenter[i][0]).attr("y", top + 310)
    .attr("text-anchor", "middle")
    .style("font-size", "23px").attr("fill", "#111")
    .text(eqLabels[i]);

  const r2 = g.append("text")
    .attr("x", left + eqCenter[i][1]).attr("y", top + 340)
    .attr("text-anchor", "middle")
    .style("font-size", "23px").attr("fill", "#111");
  if (r2Superscript[i]) {
    r2.append("tspan").text("R");
    r2.append("tspan").attr("dy", -9).style("font-size", "14px").text("2");
    r2.append("tspan").attr("dy", 9).text(" = " + r2Values[i]);
  } else {
    r2.text("R2 = " + r2Values[i]);
  }
});

// ---- axis titles with superscripts ----
function supText(sel, parts, size) {
  const shift = Math.round(size * 0.42);
  let raised = false;
  parts.forEach(function (p) {
    const t = sel.append("tspan").text(p[0]);
    if (p[1] && !raised) { t.attr("dy", -shift).style("font-size", Math.round(size * 0.62) + "px"); raised = true; }
    else if (!p[1] && raised) { t.attr("dy", shift); raised = false; }
    else if (p[1]) { t.style("font-size", Math.round(size * 0.62) + "px"); }
  });
}

const xTitleParts = [["Measured July ET ( mmol m", 0], ["-2", 1], [" s", 0], ["-1", 1], [")", 0]];
const yTitleParts = [["Modeled July ET ( mmol m", 0], ["-2", 1], [" s", 0], ["-1", 1], [" )", 0]];

svg.append("text")
  .attr("x", 569).attr("y", 819)
  .attr("text-anchor", "middle")
  .style("font-size", "28px").attr("fill", "#111")
  .call(supText, xTitleParts, 28);

svg.append("text")
  .attr("transform", "translate(38,380) rotate(-90)")
  .attr("text-anchor", "middle")
  .style("font-size", "34px").attr("fill", "#111")
  .call(supText, yTitleParts, 34);

svg.append("text")
  .attr("transform", "translate(1107,348) rotate(90)")
  .attr("text-anchor", "middle")
  .style("font-size", "29px").attr("fill", "#111")
  .call(supText, yTitleParts, 29);
</script>
</body>
</html>
